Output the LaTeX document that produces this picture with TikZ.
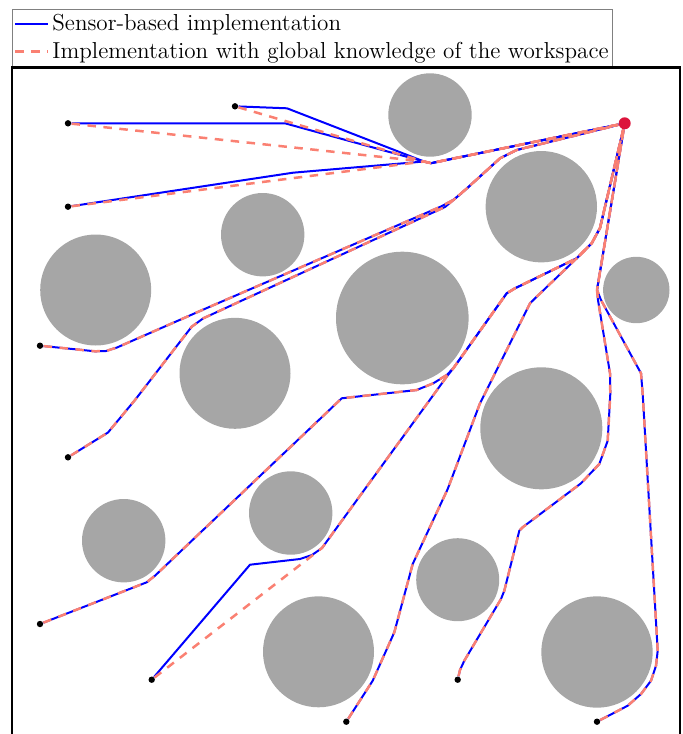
\documentclass[tikz,border=0pt]{standalone}
\usepackage{xcolor}
\usepackage{tikz}
\usetikzlibrary{positioning}
\definecolor{salmon}{RGB}{250,128,114}
\definecolor{crimson}{RGB}{220,20,60}
\definecolor{obsgray}{RGB}{166,166,166}

\begin{document}
\begin{tikzpicture}[
    x=0.5pt, y=-0.5pt,
    obstacle/.style={circle, fill=obsgray, inner sep=0pt},
    sensor/.style={blue, line width=1pt, line join=round},
    globalpath/.style={salmon, line width=1.25pt, dash pattern=on 4.25pt off 3.75pt, line join=round},
    startdot/.style={circle, fill=black, inner sep=0pt, minimum size=3.2pt},
    goaldot/.style={circle, fill=crimson, inner sep=0pt, minimum size=6pt},
    legendtext/.style={anchor=base west, inner sep=0pt, font=\fontsize{11.55}{13}\selectfont}
]
    \useasboundingbox (0,0) rectangle (682,734);

    % legend
    \node[draw=gray, line width=0.5pt, anchor=north west, inner sep=0pt, minimum width=300pt, minimum height=28.35pt] (legend) at (12,9.3) {};
    \node[legendtext] (lsensor) at (52,30.7) {Sensor-based implementation};
    \node[legendtext] (lglobal) at (52,58.3) {Implementation with global knowledge of the workspace};
    \coordinate (lsa) at (15,24);
    \coordinate (lsb) at (48,24);
    \coordinate (lga) at (15,51.7);
    \coordinate (lgb) at (48,51.7);
    \draw[sensor] (lsa) -- (lsb);
    \draw[globalpath] (lga) -- (lgb);

    % workspace
    \draw[line width=1.2pt] (12,745) -- (12,67.5) -- (680,67.5) -- (680,745);

    % obstacles (minimum size = diameter)
    \node[obstacle, minimum size=41.7pt] (o1) at (430,115) {};
    \node[obstacle, minimum size=41.7pt] (o2) at (262.7,234.7) {};
    \node[obstacle, minimum size=55.5pt] (o3) at (95.7,290) {};
    \node[obstacle, minimum size=55.7pt] (o4) at (541.3,206.7) {};
    \node[obstacle, minimum size=33.2pt] (o5) at (636.3,290) {};
    \node[obstacle, minimum size=66.3pt] (o6) at (402.3,318) {};
    \node[obstacle, minimum size=55.5pt] (o7) at (235,373.3) {};
    \node[obstacle, minimum size=61pt] (o8) at (541.3,428.3) {};
    \node[obstacle, minimum size=41.7pt] (o9) at (123.7,540.7) {};
    \node[obstacle, minimum size=41.7pt] (o10) at (290.7,513) {};
    \node[obstacle, minimum size=41.5pt] (o11) at (457.7,579.7) {};
    \node[obstacle, minimum size=55.5pt] (o12) at (318.5,651.8) {};
    \node[obstacle, minimum size=55.7pt] (o13) at (597,652) {};

    % start and goal
    \node[startdot] (s1) at (68,123.3) {};
    \node[startdot] (s2) at (235,106.3) {};
    \node[startdot] (s3) at (68,206.7) {};
    \node[startdot] (s4) at (40,345.7) {};
    \node[startdot] (s5) at (68,457.3) {};
    \node[startdot] (s6) at (40,624) {};
    \node[startdot] (s7) at (151.7,679.7) {};
    \node[startdot] (s8) at (346.3,721.7) {};
    \node[startdot] (s9) at (457.7,679.7) {};
    \node[startdot] (s10) at (597,721.7) {};
    \node[goaldot] (goal) at (624.7,123.3) {};

    % sensor-based paths
    \draw[sensor] (s1) -- (285,123.3) -- (424,161.5) -- (431,163.2) -- (440,161.3) -- (goal);
    \draw[sensor] (s2) -- (287,108.3) -- (424,161.5) -- (431,163.2) -- (440,161.3) -- (goal);
    \draw[sensor] (s3) -- (293,172.7) -- (424,161.5) -- (431,163.2) -- (440,161.3) -- (goal);
    \draw[sensor] (s4) -- (95,351.3) -- (106,351) -- (117,347.5) -- (200,311) -- (441,206.5) -- (454,199.5) -- (467,188.3) -- (500,158.3) -- (516.7,150) -- (goal);
    \draw[sensor] (s5) -- (108,432.5) -- (135,400) -- (191.7,326.7) -- (203.3,318.3) -- (445,207) -- (454,199.5) -- (467,188.3) -- (500,158.3) -- (516.7,150) -- (goal);
    \draw[sensor] (s6) -- (146.7,582.3) -- (155,575.7) -- (341.7,398.3) -- (416.7,390) -- (433.3,383.3) -- (446.7,375) -- (453.3,368.3) -- (506.7,293.3) -- (515,288.3) -- (576.7,258.3) -- (591.7,243.3) -- (600,228) -- (goal);
    \draw[sensor] (s7) -- (250,564.7) -- (300,559) -- (312,555) -- (322,548) -- (446.7,376.7) -- (453.3,368.3) -- (506.7,293.3) -- (515,288.3) -- (576.7,258.3) -- (591.7,243.3) -- (600,228) -- (goal);
    \draw[sensor] (s8) -- (372.7,680.7) -- (394.3,632.3) -- (412.7,564) -- (447.7,489) -- (480,403.3) -- (530,303.3) -- (536.7,296.7) -- (576.7,258.3) -- (591.7,243.3) -- (600,228) -- (goal);
    \draw[sensor] (s9) -- (460,670) -- (464.3,660.7) -- (501,599) -- (504.3,590.7) -- (519.3,530.7) -- (523,527) -- (581,483.3) -- (599.3,464) -- (607.7,440.7) -- (610.3,394) -- (610,373.3) -- (598,300) -- (597,290) -- (goal);
    \draw[sensor] (s10) -- (627.7,705.7) -- (641,694) -- (651,680.7) -- (656,665.7) -- (657.7,650.7) -- (642.7,394) -- (641,373.3) -- (601,300) -- (597,290) -- (goal);

    % paths with global knowledge
    \draw[globalpath] (s1) -- (424,161.5) -- (431,163.2) -- (440,161.3) -- (goal);
    \draw[globalpath] (s2) -- (424,161.5) -- (431,163.2) -- (440,161.3) -- (goal);
    \draw[globalpath] (s3) -- (424,161.5) -- (431,163.2) -- (440,161.3) -- (goal);
    \draw[globalpath] (s4) -- (95,351.3) -- (106,351) -- (117,347.5) -- (200,311) -- (441,206.5) -- (454,199.5) -- (467,188.3) -- (500,158.3) -- (516.7,150) -- (goal);
    \draw[globalpath] (s5) -- (108,432.5) -- (135,400) -- (191.7,326.7) -- (203.3,318.3) -- (445,207) -- (454,199.5) -- (467,188.3) -- (500,158.3) -- (516.7,150) -- (goal);
    \draw[globalpath] (s6) -- (146.7,582.3) -- (155,575.7) -- (341.7,398.3) -- (416.7,390) -- (433.3,383.3) -- (446.7,375) -- (453.3,368.3) -- (506.7,293.3) -- (515,288.3) -- (576.7,258.3) -- (591.7,243.3) -- (600,228) -- (goal);
    \draw[globalpath] (s7) -- (322,548) -- (446.7,376.7) -- (453.3,368.3) -- (506.7,293.3) -- (515,288.3) -- (576.7,258.3) -- (591.7,243.3) -- (600,228) -- (goal);
    \draw[globalpath] (s8) -- (372.7,680.7) -- (394.3,632.3) -- (412.7,564) -- (447.7,489) -- (480,403.3) -- (530,303.3) -- (536.7,296.7) -- (576.7,258.3) -- (591.7,243.3) -- (600,228) -- (goal);
    \draw[globalpath] (s9) -- (460,670) -- (464.3,660.7) -- (501,599) -- (504.3,590.7) -- (519.3,530.7) -- (523,527) -- (581,483.3) -- (599.3,464) -- (607.7,440.7) -- (610.3,394) -- (610,373.3) -- (598,300) -- (597,290) -- (goal);
    \draw[globalpath] (s10) -- (627.7,705.7) -- (641,694) -- (651,680.7) -- (656,665.7) -- (657.7,650.7) -- (642.7,394) -- (641,373.3) -- (601,300) -- (597,290) -- (goal);

\end{tikzpicture}
\end{document}
